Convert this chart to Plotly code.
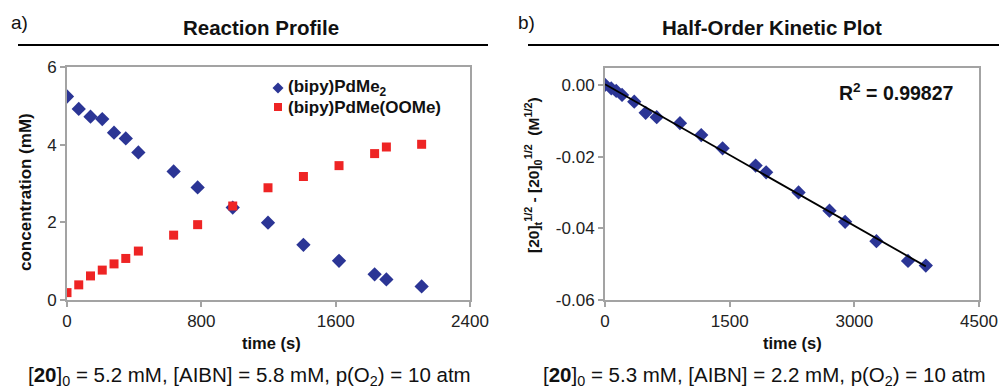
import numpy as np
import plotly.graph_objects as go

# ---- Data: panel a (Reaction Profile) ----
time_a = [0, 70, 140, 210, 280, 350, 425, 635, 778, 987, 1197, 1408, 1620, 1832, 1902, 2112]
pdme2 = [5.24, 4.92, 4.72, 4.66, 4.31, 4.16, 3.80, 3.31, 2.90, 2.38, 1.99, 1.42, 1.01, 0.66, 0.53, 0.35]
pdme_oome = [0.19, 0.39, 0.62, 0.77, 0.93, 1.07, 1.26, 1.67, 1.94, 2.42, 2.89, 3.18, 3.46, 3.77, 3.94, 4.01]

# ---- Data: panel b (Half-Order Kinetic Plot) ----
time_b = [0, 75, 135, 205, 352, 489, 622, 902, 1158, 1415, 1812, 1939, 2329, 2701, 2889, 3266, 3646, 3860]
half_order = [0.0, -0.0010, -0.0017, -0.0028, -0.0047, -0.0078, -0.0090, -0.0107, -0.0140, -0.0177,
              -0.0225, -0.0244, -0.0300, -0.0351, -0.0382, -0.0436, -0.0491, -0.0504]
r_squared = "0.99827"

xticks_a = [0, 800, 1600, 2400]
yticks_a = [0, 2, 4, 6]
xticks_b = [0, 1500, 3000, 4500]
yticks_b = [-0.06, -0.04, -0.02, 0.00]
yticktext_b = ["-0.06", "-0.04", "-0.02", "0.00"]

BLUE = "#2b3595"
RED = "#ee2424"
GRAY = "#a3a3a3"
FONT = "Liberation Sans, Arial, sans-serif"
W, H = 999, 390

def px(x):
    return x / W

def py(y):
    return (H - y) / H

fig = go.Figure()

fig.add_trace(go.Scatter(x=time_a, y=pdme2, mode="markers", name="(bipy)PdMe2",
                         marker=dict(symbol="diamond", size=11, color=BLUE), xaxis="x", yaxis="y"))
fig.add_trace(go.Scatter(x=time_a, y=pdme_oome, mode="markers", name="(bipy)PdMe(OOMe)",
                         marker=dict(symbol="square", size=9, color=RED), xaxis="x", yaxis="y"))

slope, intercept = np.polyfit(time_b, half_order, 1)
fit_x = np.array([min(time_b), max(time_b)])
fig.add_trace(go.Scatter(x=time_b, y=half_order, mode="markers",
                         marker=dict(symbol="diamond", size=11, color=BLUE), xaxis="x2", yaxis="y2"))
fig.add_trace(go.Scatter(x=fit_x, y=slope * fit_x + intercept, mode="lines",
                         line=dict(color="black", width=1.8), xaxis="x2", yaxis="y2"))

axis_common = dict(showline=True, linecolor=GRAY, linewidth=2, mirror=True, showgrid=False,
                   zeroline=False, ticks="outside", ticklen=5, tickwidth=2, tickcolor=GRAY,
                   automargin=False,
                   tickfont=dict(family=FONT, size=17, color="#222"))

fig.update_layout(
    width=W, height=H, margin=dict(l=0, r=0, t=0, b=0, autoexpand=False),
    paper_bgcolor="white", plot_bgcolor="white",
    font=dict(family=FONT, color="#111"),
    showlegend=False,
    xaxis=dict(domain=[px(67), px(470)], range=[0, 2400], tickvals=xticks_a, anchor="y", **axis_common),
    yaxis=dict(domain=[py(300), py(67)], range=[0, 6], tickvals=yticks_a, anchor="x", **axis_common),
    xaxis2=dict(domain=[px(605), px(979)], range=[0, 4500], tickvals=xticks_b, anchor="y2", **axis_common),
    yaxis2=dict(domain=[py(300), py(68)], range=[-0.06, 0.0047], tickvals=yticks_b, ticktext=yticktext_b,
                anchor="x2", **axis_common),
)

annotations = [
    dict(text="a)", x=px(9), y=py(22), xanchor="left", yanchor="middle", font=dict(size=19)),
    dict(text="b)", x=px(516), y=py(22), xanchor="left", yanchor="middle", font=dict(size=19)),
    dict(text="<b>Reaction Profile</b>", x=px(261), y=py(28), xanchor="center", yanchor="middle", font=dict(size=20.5)),
    dict(text="<b>Half-Order Kinetic Plot</b>", x=px(772), y=py(28), xanchor="center", yanchor="middle", font=dict(size=20.5)),
    dict(text="<b>R<sup>2</sup> = " + r_squared + "</b>", x=px(955), y=py(92), xanchor="right", yanchor="middle",
         font=dict(size=19.5)),
    # legend texts
    dict(text="<b>(bipy)PdMe<sub>2</sub></b>", x=px(286), y=py(88), xanchor="left", yanchor="middle", font=dict(size=17)),
    dict(text="<b>(bipy)PdMe(OOMe)</b>", x=px(286), y=py(107), xanchor="left", yanchor="middle", font=dict(size=17)),
    # axis titles
    dict(text="<b>time (s)</b>", x=px(271), y=py(343), xanchor="center", yanchor="middle", font=dict(size=16.5)),
    dict(text="<b>time (s)</b>", x=px(792), y=py(343), xanchor="center", yanchor="middle", font=dict(size=16.5)),
    dict(text="<b>concentration (mM)</b>", x=px(25), y=py(192), xanchor="center", yanchor="middle",
         textangle=-90, font=dict(size=17)),
    dict(text="<b>[20]<sub>t</sub><sup>1/2</sup> - [20]<sub>0</sub><sup>1/2</sup>  (M<sup>1/2</sup>)</b>",
         x=px(533), y=py(175), xanchor="center", yanchor="middle", textangle=-90, font=dict(size=15.5)),
    # captions
    dict(text="[<b>20</b>]<sub>0</sub> = 5.2 mM, [AIBN] = 5.8 mM, p(O<sub>2</sub>) = 10 atm",
         x=px(249), y=py(376), xanchor="center", yanchor="middle", font=dict(size=20.5)),
    dict(text="[<b>20</b>]<sub>0</sub> = 5.3 mM, [AIBN] = 2.2 mM, p(O<sub>2</sub>) = 10 atm",
         x=px(764), y=py(376), xanchor="center", yanchor="middle", font=dict(size=20.5)),
]
for a in annotations:
    a.update(xref="paper", yref="paper", showarrow=False)
    a["font"] = dict(family=FONT, color="#111", **a["font"])
fig.update_layout(annotations=annotations)

def diamond(cx, cy, r):
    return (f"M {px(cx - r)} {py(cy)} L {px(cx)} {py(cy - r)} L {px(cx + r)} {py(cy)} "
            f"L {px(cx)} {py(cy + r)} Z")

fig.update_layout(shapes=[
    dict(type="line", xref="paper", yref="paper", x0=px(18), x1=px(488), y0=py(45), y1=py(45),
         line=dict(color="black", width=2)),
    dict(type="line", xref="paper", yref="paper", x0=px(528), x1=px(999), y0=py(45), y1=py(45),
         line=dict(color="black", width=2)),
    # legend symbols
    dict(type="path", xref="paper", yref="paper", path=diamond(278, 88, 5.5),
         fillcolor=BLUE, line=dict(width=0)),
    dict(type="rect", xref="paper", yref="paper", x0=px(274), x1=px(282), y0=py(111), y1=py(103),
         fillcolor=RED, line=dict(width=0)),
])

fig.write_html("out.html", config={"displayModeBar": False},
               post_script="document.body.style.margin='0';document.body.style.overflow='hidden';")
